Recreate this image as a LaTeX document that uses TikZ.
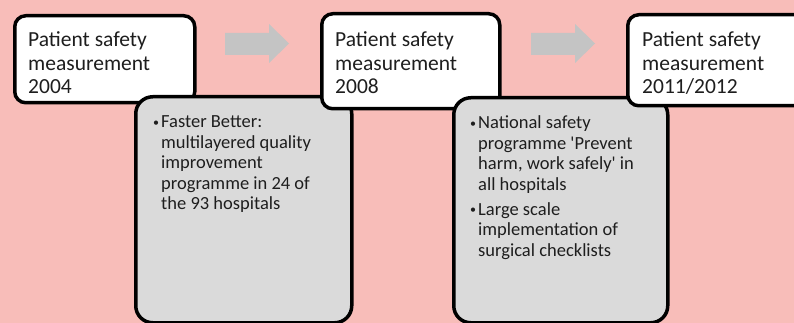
\documentclass[tikz,border=0pt]{standalone}
\usepackage{fontspec}
\setmainfont{Carlito}
\definecolor{bgpink}{HTML}{F8BDB9}
\definecolor{boxgray}{HTML}{DADADA}
\definecolor{arrowgray}{HTML}{C4C4C4}
\definecolor{textdark}{HTML}{1E1E1E}
\newcommand{\bulletpoint}{\hangindent=8pt\hangafter=1%
  \makebox[8pt][l]{\raisebox{1.8pt}{\fontsize{12}{12}\selectfont\textbullet}}}
\tikzset{
  yearbox/.style={draw=black, fill=white, line width=3.5pt, rounded corners=11pt,
    anchor=north west, inner sep=0pt},
  notebox/.style={draw=black, fill=boxgray, line width=3.5pt, rounded corners=17pt,
    anchor=north west, inner sep=0pt},
  yeartext/.style={anchor=base west, inner sep=0pt, text=textdark,
    font=\fontsize{21.5}{23.5}\selectfont},
  notetext/.style={anchor=base west, inner sep=0pt, text=textdark,
    font=\fontsize{18.5}{20.5}\selectfont},
  flowarrow/.style={fill=arrowgray}
}
\begin{document}
\begin{tikzpicture}[x=1pt, y=-1pt]
    \useasboundingbox (0,0) rectangle (794,323);
    \clip (0,0) rectangle (794,323);
    \fill[bgpink] (0,0) rectangle (794,323);

    % arrows between the years
    \foreach \x in {225, 531}
      {
        \fill[flowarrow] (\x,33) -- ++(44,0) -- ++(0,-9) -- ++(20,19.5)
          -- ++(-20,19.5) -- ++(0,-8) -- ++(-44,0) -- cycle;
      }

    % 2004
    \node[yearbox, minimum width=180pt, minimum height=87pt] (y2004) at (13,14) {};
    \node[yeartext] (y2004text) at ([xshift=15pt, yshift=-33pt]y2004.north west)
      {\parbox[t]{170pt}{Patient safety\\measurement\\2004}};

    \node[notebox, minimum width=216pt, minimum height=226pt] (n2004) at (134,95) {};
    \node[notetext] (n2004text) at ([xshift=19pt, yshift=-33pt]n2004.north west)
      {\parbox[t]{195pt}{\bulletpoint Faster Better:\\multilayered quality\\improvement\\programme in 24 of\\the 93 hospitals}};

    % 2008
    \node[yearbox, minimum width=178pt, minimum height=95pt] (y2008) at (320,12) {};
    \node[yeartext] (y2008text) at ([xshift=15pt, yshift=-35pt]y2008.north west)
      {\parbox[t]{170pt}{Patient safety\\measurement\\2008}};

    \node[notebox, minimum width=214pt, minimum height=225pt] (n2008) at (452,96) {};
    \node[notetext] (n2008text) at ([xshift=18pt, yshift=-33pt]n2008.north west)
      {\parbox[t]{195pt}{\bulletpoint National safety\\programme \textquotesingle Prevent\\harm, work safely\textquotesingle{} in\\all hospitals\par
        \vspace{4.5pt}\bulletpoint Large scale\\implementation of\\surgical checklists}};

    % 2011/2012
    \node[yearbox, minimum width=200pt, minimum height=91pt] (y2011) at (626,13) {};
    \node[yeartext] (y2011text) at ([xshift=16pt, yshift=-34pt]y2011.north west)
      {\parbox[t]{170pt}{Patient safety\\measurement\\2011/2012}};
  \end{tikzpicture}
\end{document}
